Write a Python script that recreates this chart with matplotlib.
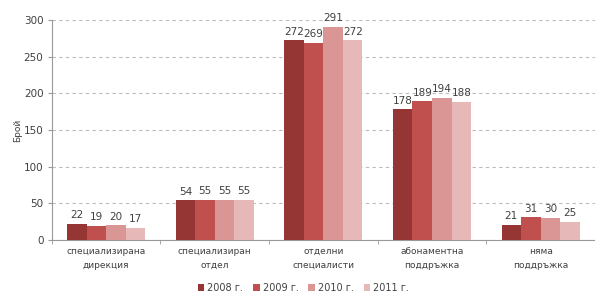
import numpy as np
import matplotlib.pyplot as plt

categories = ['специализирана\nдирекция', 'специализиран\nотдел', 'отделни\nспециалисти',
              'абонаментна\nподдръжка', 'няма\nподдръжка']
years = ['2008 г.', '2009 г.', '2010 г.', '2011 г.']
v2008 = [22, 54, 272, 178, 21]
v2009 = [19, 55, 269, 189, 31]
v2010 = [20, 55, 291, 194, 30]
v2011 = [17, 55, 272, 188, 25]
series = [v2008, v2009, v2010, v2011]
colors = ['#963634', '#c0504d', '#d99694', '#e6b9b8']

fig = plt.figure(figsize=(5.95, 2.97), dpi=100)
ax = fig.add_axes([0.087, 0.192, 0.913, 0.741])

x = np.arange(len(categories))
w = 0.18
for i, (vals, c, lab) in enumerate(zip(series, colors, years)):
    pos = x + (i - 1.5) * w
    ax.bar(pos, vals, w, color=c, label=lab, zorder=3)
    for p, v in zip(pos, vals):
        ax.text(p, v + 5, str(v), ha='center', va='bottom', fontsize=7.5, color='#404040')

ax.set_xlim(-0.5, len(categories) - 0.5)
ax.set_ylim(0, 300)
ax.set_yticks(range(0, 301, 50))
ax.yaxis.grid(True, linestyle=(0, (3, 3)), color='#bbbbbb', linewidth=0.8, zorder=0)
ax.tick_params(axis='y', length=3, color='#999999', labelsize=7.5, labelcolor='#404040', pad=3)

ax.set_xticks(x)
ax.set_xticklabels(categories, fontsize=6.5, color='#404040', linespacing=1.7)
ax.tick_params(axis='x', length=0, pad=5)
ax.set_xticks(np.arange(-0.5, len(categories)), minor=True)
ax.tick_params(axis='x', which='minor', length=3, color='#999999')

for s in ['top', 'right']:
    ax.spines[s].set_visible(False)
for s in ['left', 'bottom']:
    ax.spines[s].set_color('#999999')
    ax.spines[s].set_linewidth(0.8)

ax.set_ylabel('Брой', fontsize=6.5, color='#404040', labelpad=1)

fig.legend(loc='lower center', bbox_to_anchor=(0.51, -0.015), ncol=4, frameon=False,
           fontsize=7, handlelength=0.7, handleheight=0.7, handletextpad=0.3, columnspacing=1.0,
           labelcolor='#404040')

fig.savefig('out.png', dpi=100)
